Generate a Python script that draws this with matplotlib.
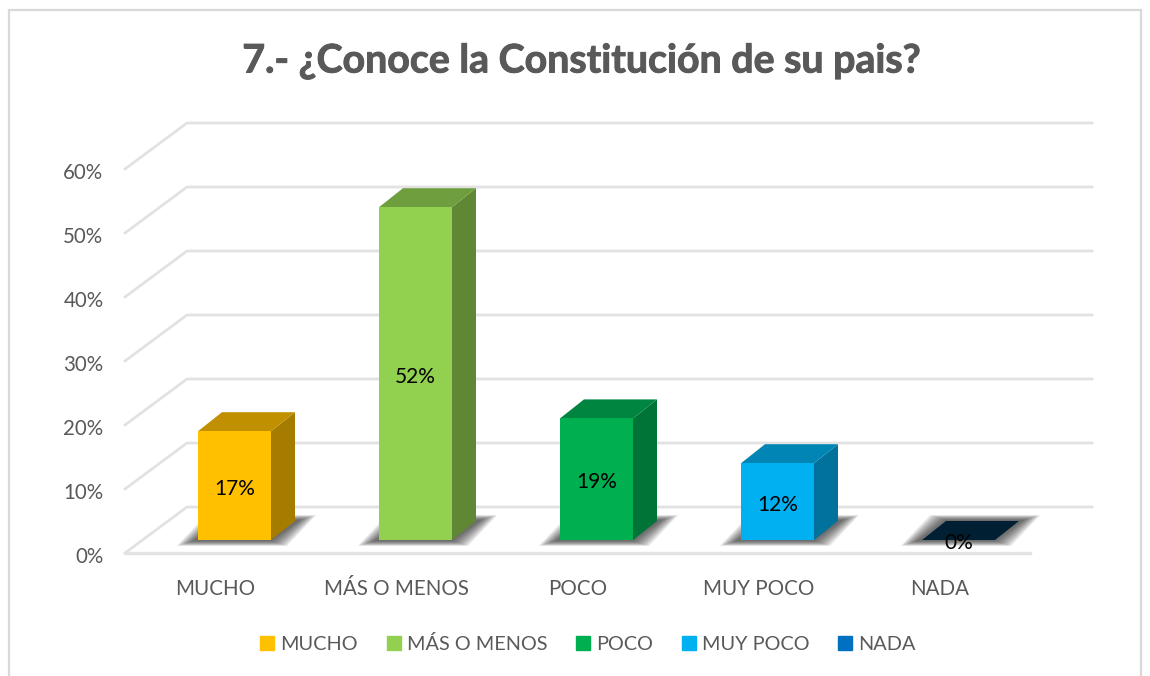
import matplotlib
matplotlib.use("Agg")
import matplotlib.pyplot as plt
import matplotlib.patheffects as pe
from matplotlib.patches import Rectangle, Patch
from matplotlib.transforms import ScaledTranslation

plt.rcParams['font.family'] = ['Lato', 'DejaVu Sans']

categories = ['MUCHO', 'MÁS O MENOS', 'POCO', 'MUY POCO', 'NADA']
values = [17, 52, 19, 12, 0]
labels = ['17%', '52%', '19%', '12%', '0%']
colors = ['#FFC000', '#92D050', '#00B050', '#00B0F0', '#0070C0']
top_colors = ['#C09000', '#6E9E3D', '#008540', '#0085B5', '#001F33']
side_colors = ['#A67C00', '#5F8734', '#007337', '#00729C', '#001F33']
yticks = [0, 10, 20, 30, 40, 50, 60]
ytick_labels = ['0%', '10%', '20%', '30%', '40%', '50%', '60%']

W, H = 1150, 676
X0, X1 = 125, 1030   # front floor line, pixels
Y0, Y60 = 553, 169
px_x = (X1 - X0) / 5.0
px_y = (Y0 - Y60) / 60.0

# 3d look, in data units
wall_dx = 62 / px_x
wall_dy = 46 / px_y
bar_w = 73 / px_x
bar_dx = 24 / px_x
bar_dy = 19 / px_y
plane_dx = 19 / px_x
plane_dy = 13 / px_y

GREY = '#595959'
GRID = '#E2E2E2'

fig = plt.figure(figsize=(W / 100, H / 100), dpi=100)
fig.patches.append(Rectangle((9 / W, -0.01), 1132 / W, 1 - 10 / H + 0.01,
                             transform=fig.transFigure, fill=False,
                             edgecolor='#D9D9D9', linewidth=1.6))

ax = fig.add_axes([X0 / W, (H - Y0) / H, (X1 - X0) / W, (Y0 - Y60) / H])
ax.set_xlim(-0.5, 4.5)
ax.set_ylim(0, 60)
ax.patch.set_alpha(0)
for s in ax.spines.values():
    s.set_visible(False)

# back wall and side wall lines
for v in yticks:
    ax.plot([-0.5, -0.5 + wall_dx, 4.5 + wall_dx], [v, v + wall_dy, v + wall_dy],
            color=GRID, lw=2.0, clip_on=False, zorder=1, solid_joinstyle='miter')
ax.plot([-0.5, 4.5], [0, 0], color=GRID, lw=2.4, clip_on=False, zorder=1)

# bars
for i, v in enumerate(values):
    x = i + plane_dx
    l = x - bar_w / 2
    r = x + bar_w / 2
    b = plane_dy

    # soft shadow on the floor: stacked polygons getting narrower
    for k in range(14):
        g = (13 - k) * 1.25 / px_x
        gy = (13 - k) * 0.38 / px_y
        sx = [l - 5 / px_x - g, r + g,
              r + bar_dx + 5 / px_x + g, l + bar_dx - g]
        sy = [b - 1 / px_y - gy, b - 1 / px_y - gy,
              b + 20 / px_y + gy, b + 20 / px_y + gy]
        ax.fill(sx, sy, color='#303030', alpha=0.08, lw=0, zorder=2, clip_on=False)

    if v == 0:
        ax.fill([l, r, r + bar_dx, l + bar_dx], [b, b, b + bar_dy, b + bar_dy],
                color=top_colors[i], lw=0, zorder=3)
    else:
        ax.fill([r, r + bar_dx, r + bar_dx, r], [b, b + bar_dy, b + v + bar_dy, b + v],
                color=side_colors[i], lw=0, zorder=3)
        ax.fill([l, r, r + bar_dx, l + bar_dx], [b + v, b + v, b + v + bar_dy, b + v + bar_dy],
                color=top_colors[i], lw=0, zorder=3)
        ax.bar(x, v, width=bar_w, bottom=b, color=colors[i], zorder=4)
    ax.text(x, b + v / 2.0 - 0.5, labels[i], ha='center', va='center',
            fontsize=15, color='black', zorder=6)

ax.set_xticks(range(5))
ax.set_xticklabels(categories, fontsize=14.8, color=GREY)
ax.set_yticks(yticks)
ax.set_yticklabels(ytick_labels, fontsize=14.8, color=GREY)
ax.tick_params(axis='x', length=0, pad=18.5)
ax.tick_params(axis='y', length=0, pad=15.5)
for t in ax.get_yticklabels():
    t.set_transform(t.get_transform() + ScaledTranslation(0, -1.5 / 72, fig.dpi_scale_trans))

title = fig.text(581 / W, 1 - 61 / H, '7.- ¿Conoce la Constitución de su pais?',
                 ha='center', va='center', fontsize=28.3, fontweight='bold', color=GREY)
title.set_path_effects([pe.withStroke(linewidth=0.7, foreground=GREY)])

handles = [Patch(color=c, label=n) for c, n in zip(colors, categories)]
fig.legend(handles=handles, loc='center', bbox_to_anchor=(588 / W, 1 - 644 / H),
           ncol=5, frameon=False, fontsize=14.3, labelcolor=GREY, handlelength=0.71,
           handleheight=0.71, handletextpad=0.3, columnspacing=1.45)

fig.savefig('out.png', dpi=100)
